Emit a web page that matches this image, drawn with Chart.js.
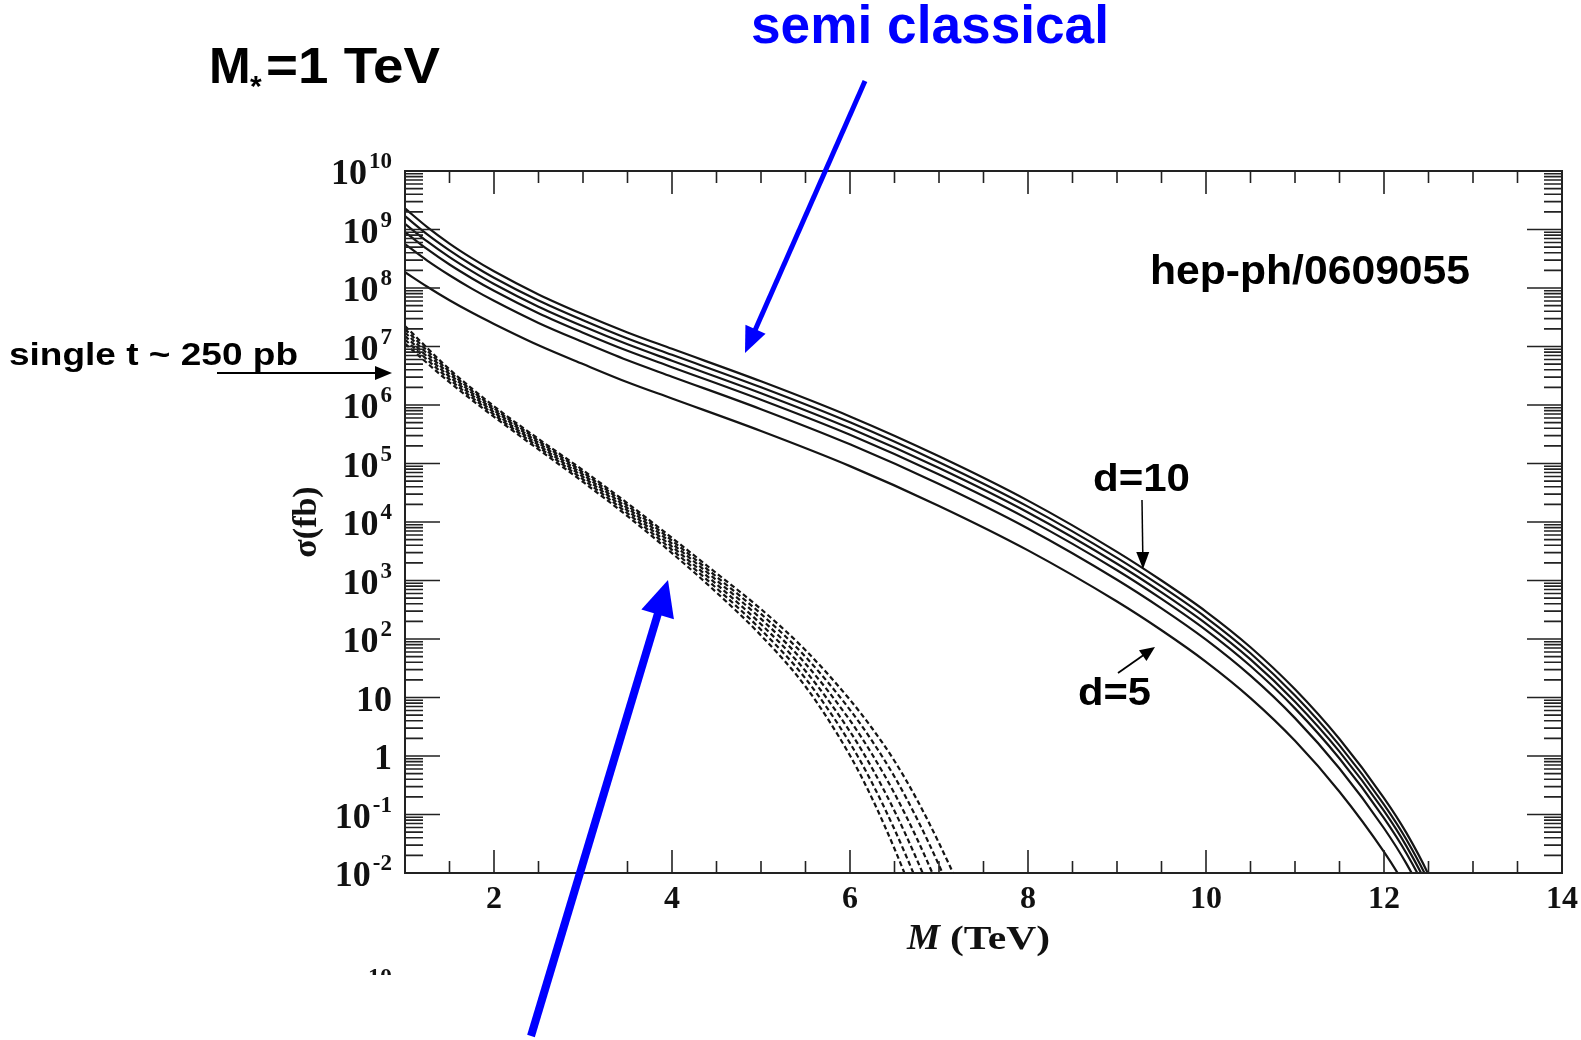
<!DOCTYPE html>
<html>
<head>
<meta charset="utf-8">
<title>Black hole production cross section, M* = 1 TeV</title>
<script src="https://cdn.jsdelivr.net/npm/chart.js@4.4.1/dist/chart.umd.min.js"></script>
<style>
  html, body { margin: 0; padding: 0; background: #fff; }
  #wrap { width: 1581px; height: 1040px; }
</style>
</head>
<body>
<div id="wrap"><canvas id="myChart" width="1581" height="1040"></canvas></div>
<script>
// M (TeV) for the semi classical (solid) curves
const massSemi = [1, 1.25, 1.5, 1.75, 2, 2.5, 3, 3.5, 4, 5, 6, 7, 8, 9, 9.5, 10, 10.5, 11, 11.5, 12, 12.25, 12.5, 12.75];
// sigma (fb), d = 10 down to d = 5
const semiD10 = [2.29e9, 1.10e9, 5.75e8, 3.24e8, 1.93e8, 7.76e7, 3.55e7, 1.74e7, 9.12e6, 2.54e6, 6.38e5, 1.33e5, 2.32e4, 3.09e3, 1000, 295, 72.4, 13.8, 1.95, 0.191, 0.0490, 0.00933, 0.00107];
const semiD9  = [1.69e9, 8.28e8, 4.41e8, 2.50e8, 1.50e8, 6.11e7, 2.81e7, 1.37e7, 7.21e6, 2.01e6, 5.05e5, 1.05e5, 1.83e4, 2.44e3, 791, 233, 57.0, 10.8, 1.52, 0.148, 0.0378, 0.00716, 8.2e-4];
const semiD8  = [1.25e9, 6.24e8, 3.37e8, 1.94e8, 1.17e8, 4.80e7, 2.22e7, 1.09e7, 5.70e6, 1.59e6, 3.99e5, 8.34e4, 1.45e4, 1.93e3, 625, 183, 44.8, 8.49, 1.19, 0.115, 0.0291, 0.00549, 6.2e-4];
const semiD7  = [9.06e8, 4.60e8, 2.52e8, 1.47e8, 8.95e7, 3.70e7, 1.72e7, 8.43e6, 4.43e6, 1.23e6, 3.10e5, 6.47e4, 1.12e4, 1.50e3, 485, 142, 34.5, 6.52, 0.906, 0.0870, 0.0220, 0.00412, 4.65e-4];
const semiD6  = [5.62e8, 2.94e8, 1.65e8, 9.75e7, 6.04e7, 2.53e7, 1.19e7, 5.81e6, 3.05e6, 8.49e5, 2.13e5, 4.46e4, 7.74e3, 1.03e3, 334, 97.4, 23.6, 4.44, 0.611, 0.0582, 0.0146, 0.00271, 3.03e-4];
const semiD5  = [1.86e8, 1.05e8, 6.17e7, 3.80e7, 2.43e7, 1.05e7, 5.01e6, 2.45e6, 1.29e6, 3.59e5, 9.02e4, 1.88e4, 3.27e3, 437, 141, 40.7, 9.77, 1.82, 0.245, 0.0229, 0.00562, 0.00102, 1.12e-4];

// M (TeV) for the dashed curves
const massQuant = [1, 1.5, 2, 2.5, 3, 3.5, 4, 4.5, 5, 5.5, 6, 6.25, 6.5, 6.75, 7, 7.25, 7.5];
const quantD10 = [2.24e7, 4.07e6, 9.51e5, 2.63e5, 7.67e4, 2.09e4, 5.35e3, 1.33e3, 324, 64.3, 9.12, 2.95, 0.822, 0.182, 0.0324, 0.00484, 5.75e-4];
const quantD9  = [1.98e7, 3.72e6, 8.81e5, 2.44e5, 7.06e4, 1.91e4, 4.80e3, 1.16e3, 269, 49.7, 6.15, 1.79, 0.442, 0.0863, 0.0136, 0.00175, 1.8e-4];
const quantD8  = [1.73e7, 3.38e6, 8.15e5, 2.25e5, 6.47e4, 1.73e4, 4.28e3, 1.01e3, 221, 37.8, 4.06, 1.06, 0.229, 0.0393, 0.00541, 6.0e-4, 5.3e-5];
const quantD7  = [1.51e7, 3.05e6, 7.50e5, 2.07e5, 5.90e4, 1.57e4, 3.79e3, 865, 179, 28.4, 2.62, 0.611, 0.115, 0.0171, 0.00206, 1.9e-4, 1.5e-5];
const quantD6  = [1.31e7, 2.74e6, 6.87e5, 1.91e5, 5.36e4, 1.41e4, 3.35e3, 738, 144, 21.1, 1.66, 0.342, 0.0556, 0.00718, 7.4e-4, 5.9e-5, 3.8e-6];
const quantD5  = [1.12e7, 2.45e6, 6.28e5, 1.74e5, 4.84e4, 1.26e4, 2.94e3, 624, 115, 15.4, 1.02, 0.186, 0.0260, 0.00288, 2.6e-4, 1.7e-5, 9e-7];

// axis ticks
const yTickPowers = [-2, -1, 0, 1, 2, 3, 4, 5, 6, 7, 8, 9, 10];
const xTickLabels = [2, 4, 6, 8, 10, 12, 14];

const serif = '"Liberation Serif", "Times New Roman", serif';
const sans = '"Liberation Sans", Arial, sans-serif';

function toPoints(xs, ys) {
  return xs.map((x, i) => ({ x: x, y: ys[i] }));
}

const semiSeries = [semiD10, semiD9, semiD8, semiD7, semiD6, semiD5];
const quantSeries = [quantD10, quantD9, quantD8, quantD7, quantD6, quantD5];

const datasets = [];
semiSeries.forEach((s, i) => {
  datasets.push({
    label: 'semi classical d=' + (10 - i),
    data: toPoints(massSemi, s),
    borderColor: '#141414',
    borderWidth: 2.2,
    cubicInterpolationMode: 'monotone'
  });
});
quantSeries.forEach((s, i) => {
  datasets.push({
    label: 'd=' + (10 - i),
    data: toPoints(massQuant, s),
    borderColor: '#141414',
    borderWidth: 2.2,
    borderDash: [5, 3],
    cubicInterpolationMode: 'monotone'
  });
});

// text squeezed/stretched to a given width
function fitText(ctx, text, x, y, width) {
  const w = ctx.measureText(text).width;
  ctx.save();
  ctx.translate(x, y);
  ctx.scale(width / w, 1);
  ctx.textAlign = 'left';
  ctx.fillText(text, 0, 0);
  ctx.restore();
}

function arrow(ctx, x1, y1, x2, y2, lw, head, half, color) {
  const len = Math.hypot(x2 - x1, y2 - y1);
  const ux = (x2 - x1) / len, uy = (y2 - y1) / len;
  const bx = x2 - ux * head, by = y2 - uy * head;
  ctx.save();
  ctx.strokeStyle = color;
  ctx.fillStyle = color;
  ctx.lineWidth = lw;
  ctx.beginPath();
  ctx.moveTo(x1, y1);
  ctx.lineTo(bx + ux * 2, by + uy * 2);
  ctx.stroke();
  ctx.beginPath();
  ctx.moveTo(x2, y2);
  ctx.lineTo(bx - uy * half, by + ux * half);
  ctx.lineTo(bx + uy * half, by - ux * half);
  ctx.closePath();
  ctx.fill();
  ctx.restore();
}

const framePlugin = {
  id: 'framePlugin',
  afterDraw(chart) {
    const ctx = chart.ctx;
    const a = chart.chartArea;
    const xs = chart.scales.x;
    const ys = chart.scales.y;

    ctx.save();
    ctx.strokeStyle = '#222';
    ctx.lineWidth = 2;
    ctx.strokeRect(a.left, a.top, a.right - a.left, a.bottom - a.top);

    // y ticks, both sides, pointing inwards
    ctx.lineWidth = 1.6;
    ctx.beginPath();
    yTickPowers.forEach(p => {
      const y = ys.getPixelForValue(Math.pow(10, p));
      ctx.moveTo(a.left, y); ctx.lineTo(a.left + 35, y);
      ctx.moveTo(a.right, y); ctx.lineTo(a.right - 35, y);
      if (p < 10) {
        for (let m = 2; m <= 9; m++) {
          const ym = ys.getPixelForValue(m * Math.pow(10, p));
          ctx.moveTo(a.left, ym); ctx.lineTo(a.left + 18, ym);
          ctx.moveTo(a.right, ym); ctx.lineTo(a.right - 18, ym);
        }
      }
    });
    // x ticks, top and bottom
    for (let v = 1.5; v < 14; v += 0.5) {
      const x = xs.getPixelForValue(v);
      const len = (v % 2 === 0) ? 23 : 12;
      ctx.moveTo(x, a.bottom); ctx.lineTo(x, a.bottom - len);
      ctx.moveTo(x, a.top); ctx.lineTo(x, a.top + len);
    }
    ctx.stroke();

    // y tick labels
    ctx.fillStyle = '#111';
    const labelRight = a.left - 13;
    yTickPowers.forEach(p => {
      const y = ys.getPixelForValue(Math.pow(10, p));
      ctx.textAlign = 'right';
      ctx.textBaseline = 'alphabetic';
      if (p === 0 || p === 1) {
        ctx.font = 'bold 36px ' + serif;
        ctx.fillText(p === 0 ? '1' : '10', labelRight, y + 13);
      } else {
        ctx.font = 'bold 23px ' + serif;
        const sup = String(p);
        const sw = ctx.measureText(sup).width;
        ctx.fillText(sup, labelRight, y - 3);
        ctx.font = 'bold 36px ' + serif;
        ctx.fillText('10', labelRight - sw - 2, y + 13);
      }
    });

    // x tick labels
    ctx.font = 'bold 32px ' + serif;
    ctx.textAlign = 'center';
    xTickLabels.forEach(v => {
      ctx.fillText(String(v), xs.getPixelForValue(v), a.bottom + 35);
    });

    // axis titles
    ctx.textAlign = 'left';
    ctx.font = 'italic bold 36px ' + serif;
    fitText(ctx, 'M', 907, 949, 33);
    ctx.font = 'bold 34px ' + serif;
    fitText(ctx, '(TeV)', 950, 949, 100);

    ctx.save();
    ctx.translate(316, 522);
    ctx.rotate(-Math.PI / 2);
    ctx.font = 'bold 34px ' + serif;
    ctx.textAlign = 'center';
    ctx.fillText('\u03c3(fb)', 0, 0);
    ctx.restore();

    // clipped label fragment at the bottom edge
    ctx.save();
    ctx.beginPath();
    ctx.rect(340, 955, 80, 20);
    ctx.clip();
    ctx.font = 'bold 24px ' + serif;
    ctx.textAlign = 'right';
    ctx.fillText('10', 392, 984);
    ctx.restore();

    // annotations
    ctx.fillStyle = '#000';
    ctx.font = 'bold 50px ' + sans;
    ctx.fillText('M', 209, 83);
    ctx.font = 'bold 30px ' + sans;
    ctx.fillText('*', 250, 96);
    ctx.font = 'bold 50px ' + sans;
    fitText(ctx, '=1 TeV', 266, 83, 174);

    ctx.fillStyle = '#0000ff';
    ctx.font = 'bold 53px ' + sans;
    fitText(ctx, 'semi classical', 751, 43, 358);

    ctx.fillStyle = '#000';
    ctx.font = 'bold 40px ' + sans;
    fitText(ctx, 'hep-ph/0609055', 1150, 284, 320);
    ctx.font = 'bold 32px ' + sans;
    fitText(ctx, 'single t ~ 250 pb', 9, 365, 289);
    ctx.font = 'bold 38px ' + sans;
    fitText(ctx, 'd=10', 1093, 491, 97);
    fitText(ctx, 'd=5', 1078, 705, 73);

    arrow(ctx, 217, 373, 392, 373, 2, 17, 7, '#000');
    arrow(ctx, 1142, 500, 1143, 569, 1.5, 17, 6.5, '#000');
    arrow(ctx, 1118, 673, 1155, 647, 1.8, 15, 6.5, '#000');

    arrow(ctx, 865, 81, 745, 353, 5, 26, 11, '#0000ff');
    arrow(ctx, 531, 1036, 668, 580, 8, 36, 17, '#0000ff');
    ctx.restore();
  }
};

const ctx = document.getElementById('myChart').getContext('2d');
const myChart = new Chart(ctx, {
  type: 'line',
  data: { datasets: datasets },
  options: {
    responsive: false,
    animation: false,
    devicePixelRatio: 1,
    layout: { padding: { left: 405, top: 171, right: 19, bottom: 167 } },
    elements: { point: { radius: 0 }, line: { fill: false } },
    plugins: { legend: { display: false }, tooltip: { enabled: false } },
    scales: {
      x: { type: 'linear', min: 1, max: 14, display: false },
      y: { type: 'logarithmic', min: 0.01, max: 1e10, display: false }
    }
  },
  plugins: [framePlugin]
});
</script>
</body>
</html>
